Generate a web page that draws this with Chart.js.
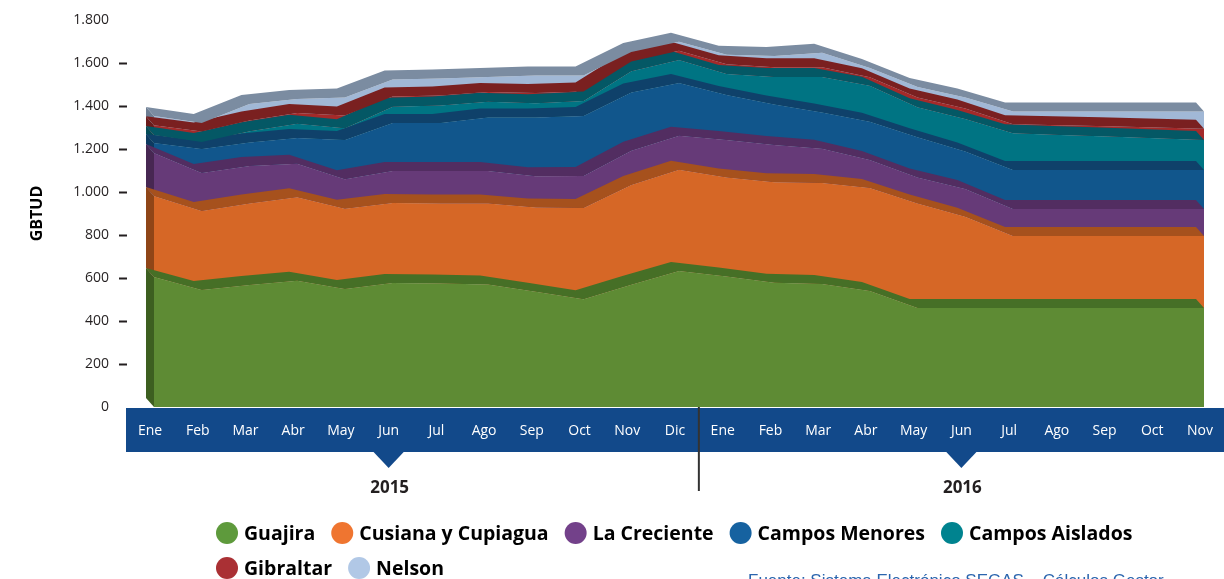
<!DOCTYPE html>
<html><head><meta charset="utf-8">
<script src="https://cdn.jsdelivr.net/npm/chart.js@4.4.1/dist/chart.umd.min.js"></script>
<style>html,body{margin:0;padding:0;background:#fff;}#wrap{width:1224px;height:579px;position:relative;overflow:hidden;}</style>
</head><body><div id="wrap"><canvas id="c" width="1224" height="579"></canvas></div>
<script>
// ---- data ----
const months = ['Ene','Feb','Mar','Abr','May','Jun','Jul','Ago','Sep','Oct','Nov','Dic','Ene','Feb','Mar','Abr','May','Jun','Jul','Ago','Sep','Oct','Nov'];
const years = ['2015','2016'];
const yearMidIndex = [5, 17];
const yearBreakAfter = 11;
const seriesNames = ['Guajira','Cusiana y Cupiagua','La Creciente','Campos Menores','Campos Aislados','Gibraltar','Nelson'];
const guajira   = [605,544,568,587,549,577,574,570,536,501,569,633,607,578,572,539,460,460,460,460,460,460,460];
const cusiana   = [376,368,379,389,373,372,373,376,392,425,464,471,460,467,470,480,487,425,335,335,335,335,335];
const creciente = [200,176,174,155,137,149,151,152,145,148,159,158,175,174,159,130,120,129,126,126,126,126,126];
const menores   = [47,112,109,120,183,223,223,248,274,279,271,245,209,188,169,178,188,174,181,181,181,181,181];
const aislados  = [37,33,53,67,54,76,81,74,66,70,99,107,98,128,165,167,139,152,171,163,156,148,140];
const gibraltar = [45,48,50,50,60,47,47,45,48,45,45,43,45,45,45,40,45,48,42,45,48,50,52];
const nelson    = [43,40,76,64,83,79,79,70,81,74,44,42,44,53,68,43,49,52,60,64,69,75,81];
const yTickValues = [0,200,400,600,800,1000,1200,1400,1600,1800];
const yTitle = 'GBTUD';
const sourceText = 'Fuente: Sistema Electrónico SEGAS – Cálculos Gestor';

// ---- styles ----
const faceColors   = ['#5e8b34','#d66726','#663a78','#11568c','#007483','#a42a2a','#a1b8d6'];
const topColors    = ['#466f26','#a6511d','#522d61','#0f416a','#045865','#7a2020','#7b8ca1'];
const sideColors   = ['#3d5f20','#8f4517','#472752','#0d3a60','#034c57','#6b1b1b','#6e7e93'];
const legendColors = ['#5e9a3c','#ef7530','#73418a','#1662a0','#00838f','#aa3034','#b1c8e6'];
const bandColor = '#12498a';
const DX = -8, DY = -9;
const allSeries = [guajira,cusiana,creciente,menores,aislados,gibraltar,nelson];

const depthPlugin = {
  id: 'depth3d',
  beforeDraw(chart) {
    const {ctx, chartArea, scales:{x}} = chart;
    ctx.save();
    const top = chartArea.bottom + 1, h = 44;
    ctx.fillStyle = bandColor;
    ctx.fillRect(chartArea.left - 28, top, chart.width, h);
    yearMidIndex.forEach(i => {
      const cx = x.getPixelForValue(i) - 4;
      ctx.beginPath();
      ctx.moveTo(cx - 16, top + h - 1);
      ctx.lineTo(cx + 16, top + h - 1);
      ctx.lineTo(cx, top + h + 16);
      ctx.closePath();
      ctx.fill();
    });
    ctx.restore();
  },
  afterDatasetsDraw(chart) {
    const {ctx, scales:{y}} = chart;
    ctx.save();
    const metas = chart.data.datasets.map((d,i)=>chart.getDatasetMeta(i));
    metas.forEach((meta,i) => {
      const p0 = meta.data[0];
      const bottom = i === 0 ? y.getPixelForValue(0) : metas[i-1].data[0].y;
      ctx.beginPath();
      ctx.moveTo(p0.x, bottom);
      ctx.lineTo(p0.x, p0.y);
      ctx.lineTo(p0.x + DX, p0.y + DY);
      ctx.lineTo(p0.x + DX, bottom + DY);
      ctx.closePath();
      ctx.fillStyle = sideColors[i];
      ctx.fill();
    });
    metas.forEach((meta,i) => {
      const pts = meta.data;
      ctx.beginPath();
      pts.forEach((p,k) => k ? ctx.lineTo(p.x, p.y) : ctx.moveTo(p.x, p.y));
      for (let k = pts.length - 1; k >= 0; k--) ctx.lineTo(pts[k].x + DX, pts[k].y + DY);
      ctx.closePath();
      ctx.fillStyle = topColors[i];
      ctx.fill();
    });
    ctx.restore();
  },
  afterDraw(chart) {
    const {ctx, chartArea, scales:{x, y}} = chart;
    ctx.save();
    ctx.strokeStyle = '#231f20';
    ctx.lineWidth = 2;
    yTickValues.forEach(v => {
      if (v === 0 || v === 1800) return;
      const py = Math.round(y.getPixelForValue(v)) + 0.5;
      ctx.beginPath(); ctx.moveTo(chartArea.left - 35, py); ctx.lineTo(chartArea.left - 27, py); ctx.stroke();
    });
    const dx = (x.getPixelForValue(yearBreakAfter) + x.getPixelForValue(yearBreakAfter + 1)) / 2 - 4;
    ctx.strokeStyle = '#333333';
    ctx.lineWidth = 2;
    ctx.beginPath(); ctx.moveTo(dx, chartArea.bottom); ctx.lineTo(dx, chartArea.bottom + 84); ctx.stroke();
    ctx.fillStyle = '#231f20';
    ctx.font = 'bold 17px "Open Sans"';
    ctx.textAlign = 'center';
    ctx.textBaseline = 'middle';
    years.forEach((t,i) => ctx.fillText(t, x.getPixelForValue(yearMidIndex[i]) - 3, chartArea.bottom + 81));
    // legend
    ctx.font = 'bold 19.5px "Open Sans"';
    ctx.textAlign = 'left';
    const rows = [[0,1,2,3,4],[5,6]];
    const rowY = [533, 568];
    rows.forEach((row, r) => {
      let cx = 216;
      row.forEach(i => {
        ctx.fillStyle = legendColors[i];
        ctx.beginPath(); ctx.arc(cx + 11, rowY[r], 11, 0, Math.PI*2); ctx.fill();
        cx += 22 + 6;
        ctx.fillStyle = '#000000';
        ctx.fillText(seriesNames[i], cx, rowY[r] + 1);
        cx += ctx.measureText(seriesNames[i]).width + 16;
      });
    });
    ctx.fillStyle = '#2b65ae';
    ctx.font = '17px "Liberation Sans"';
    ctx.textBaseline = 'alphabetic';
    ctx.fillText(sourceText, 748, 586);
    ctx.restore();
  }
};

new Chart(document.getElementById('c'), {
  type: 'line',
  data: {
    labels: months,
    datasets: allSeries.map((arr,i) => ({
      label: seriesNames[i],
      data: arr,
      backgroundColor: faceColors[i],
      borderColor: faceColors[i],
      borderWidth: 0,
      pointRadius: 0,
      tension: 0,
      fill: i === 0 ? 'origin' : '-1'
    }))
  },
  options: {
    responsive: false,
    animation: false,
    devicePixelRatio: 1,
    layout: { padding: { left: 24, right: 20, top: 20, bottom: 0 } },
    plugins: { legend: { display: false }, tooltip: { enabled: false } },
    scales: {
      x: {
        grid: { display: false, drawTicks: false },
        border: { display: false },
        ticks: { color: '#ffffff', font: { family: 'Open Sans', size: 14 }, padding: 16, labelOffset: -4, autoSkip: false, maxRotation: 0 },
        afterFit(s) { s.height = 172; s.paddingLeft = 0; s.paddingRight = 0; }
      },
      y: {
        stacked: true,
        min: 0, max: 1800,
        afterBuildTicks(s) { s.ticks = yTickValues.map(v => ({value: v})); },
        grid: { display: false, drawTicks: false },
        border: { display: false },
        ticks: {
          color: '#231f20', font: { family: 'Open Sans', size: 14 }, padding: 45,
          callback: v => v.toString().replace(/\B(?=(\d{3})+(?!\d))/g, '.')
        },
        title: { display: true, text: yTitle, color: '#000', font: { family: 'Open Sans', size: 16, weight: 'bold' } },
        afterFit(s) { s.width = 130; s.paddingTop = 0; s.paddingBottom = 0; }
      }
    }
  },
  plugins: [depthPlugin]
});
</script></body></html>
